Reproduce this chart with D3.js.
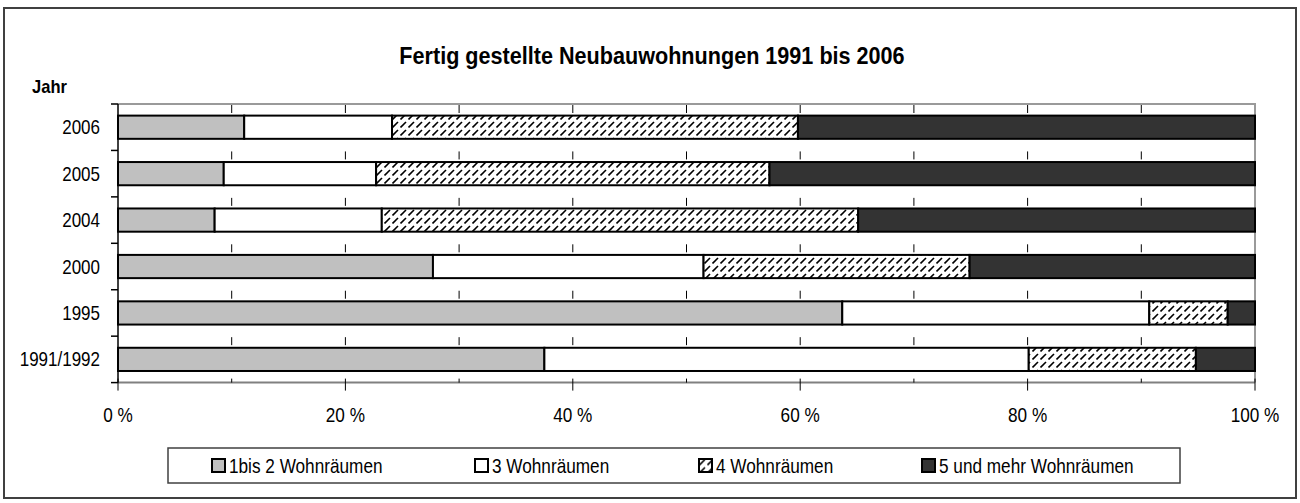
<!DOCTYPE html>
<html>
<head>
<meta charset="utf-8">
<script src="https://cdn.jsdelivr.net/npm/d3@7"></script>
<style>
  body { margin: 0; background: #fff; }
  svg text { font-family: 'Liberation Sans', Arial, sans-serif; }
</style>
</head>
<body>
<div id="chart"></div>
<script>
// values, in percent
var years = ['2006', '2005', '2004', '2000', '1995', '1991/1992']
var seriesNames = ['1bis 2 Wohnräumen', '3 Wohnräumen', '4 Wohnräumen', '5 und mehr Wohnräumen']
var oneTwoRooms = [11.1, 9.3, 8.5, 27.7, 63.7, 37.5]
var threeRooms = [13.0, 13.4, 14.7, 23.8, 27.0, 42.6]
var fourRooms = [35.7, 34.6, 41.9, 23.4, 6.9, 14.7]
var fivePlusRooms = [40.2, 42.7, 34.9, 25.1, 2.4, 5.2]
var xTickValues = [0, 20, 40, 60, 80, 100]

var width = 1300
var height = 503
var margin = { top: 104, right: 45, bottom: 120.4, left: 118 }

// the original uses a narrow font, squeeze the installed one sideways
var narrow = 0.86

var fills = ['#c0c0c0', '#ffffff', 'url(#hatch)', '#333333']

var data = years.map((y, i) => ({
  year: y,
  s0: oneTwoRooms[i],
  s1: threeRooms[i],
  s2: fourRooms[i],
  s3: fivePlusRooms[i]
}))
var keys = ['s0', 's1', 's2', 's3']
var stacked = d3.stack().keys(keys)(data)

var svg = d3.select('#chart').append('svg')
  .attr('width', width)
  .attr('height', height)

var defs = svg.append('defs')
var pat = defs.append('pattern')
  .attr('id', 'hatch')
  .attr('patternUnits', 'userSpaceOnUse')
  .attr('width', 8)
  .attr('height', 8)
pat.append('rect').attr('width', 8).attr('height', 8).attr('fill', '#fff')
pat.append('path')
  .attr('d', 'M0.5,7.5 L6,2')
  .attr('stroke', '#000')
  .attr('stroke-width', 1.6)

// outer frame
svg.append('rect')
  .attr('x', 4).attr('y', 8)
  .attr('width', 1292).attr('height', 490)
  .attr('fill', '#fff')
  .attr('stroke', '#404040')
  .attr('stroke-width', 2)

var x = d3.scaleLinear()
  .domain([0, 100])
  .range([margin.left, width - margin.right])

var y = d3.scaleBand()
  .domain(years)
  .range([margin.top, height - margin.bottom])
  .paddingInner(0.5)
  .paddingOuter(0.25)

var plotTop = margin.top
var plotBottom = height - margin.bottom
var step = y.step()

// dashed gridlines every 10 %
svg.append('g')
  .selectAll('line')
  .data(x.ticks(10).filter(d => d > 0 && d < 100))
  .enter()
  .append('line')
  .attr('x1', d => x(d)).attr('x2', d => x(d))
  .attr('y1', plotTop + 1).attr('y2', plotBottom)
  .attr('stroke', '#000')
  .attr('stroke-width', 1)
  .attr('stroke-dasharray', `8,${step - 8}`)

// plot border top and right
svg.append('path')
  .attr('d', `M${x(0)},${plotTop}H${x(100)}V${plotBottom}`)
  .attr('fill', 'none')
  .attr('stroke', '#9a9a9a')
  .attr('stroke-width', 2)

// bars
svg.append('g')
  .selectAll('g')
  .data(stacked)
  .enter()
  .append('g')
  .attr('fill', (d, i) => fills[i])
  .selectAll('rect')
  .data(d => d)
  .enter()
  .append('rect')
  .attr('x', d => x(d[0]))
  .attr('y', d => y(d.data.year))
  .attr('width', d => x(d[1]) - x(d[0]))
  .attr('height', y.bandwidth())
  .attr('stroke', '#000')
  .attr('stroke-width', 2)

// bottom axis
var xAxis = svg.append('g')
xAxis.append('line')
  .attr('x1', x(0)).attr('x2', x(100))
  .attr('y1', plotBottom).attr('y2', plotBottom)
  .attr('stroke', '#808080')
  .attr('stroke-width', 2)
xAxis.selectAll('.minor')
  .data(x.ticks(10).filter(d => d % 20 !== 0))
  .enter()
  .append('line')
  .attr('class', 'minor')
  .attr('x1', d => x(d)).attr('x2', d => x(d))
  .attr('y1', plotBottom - 4).attr('y2', plotBottom)
  .attr('stroke', '#000')
xAxis.selectAll('.major')
  .data(xTickValues)
  .enter()
  .append('line')
  .attr('class', 'major')
  .attr('x1', d => x(d)).attr('x2', d => x(d))
  .attr('y1', plotBottom - 4).attr('y2', plotBottom + 8)
  .attr('stroke', '#000')
xAxis.selectAll('text')
  .data(xTickValues)
  .enter()
  .append('text')
  .attr('transform', d => `translate(${x(d)},422) scale(${narrow},1)`)
  .attr('text-anchor', 'middle')
  .attr('font-size', 20)
  .text(d => d + ' %')

// left axis
var yAxis = svg.append('g')
yAxis.append('line')
  .attr('x1', x(0)).attr('x2', x(0))
  .attr('y1', plotTop).attr('y2', plotBottom)
  .attr('stroke', '#000')
  .attr('stroke-width', 1.5)
yAxis.selectAll('.tick')
  .data(d3.range(years.length + 1))
  .enter()
  .append('line')
  .attr('class', 'tick')
  .attr('x1', x(0) - 7).attr('x2', x(0))
  .attr('y1', i => plotTop + i * step)
  .attr('y2', i => plotTop + i * step)
  .attr('stroke', '#000')
  .attr('stroke-width', 1.5)
yAxis.selectAll('text')
  .data(years)
  .enter()
  .append('text')
  .attr('transform', d => `translate(100,${y(d) + y.bandwidth() / 2}) scale(0.85,1)`)
  .attr('dy', '0.35em')
  .attr('text-anchor', 'end')
  .attr('font-size', 20)
  .text(d => d)

// title and axis name
svg.append('text')
  .attr('transform', 'translate(652,64) scale(0.9,1)')
  .attr('text-anchor', 'middle')
  .attr('font-size', 24)
  .attr('font-weight', 'bold')
  .text('Fertig gestellte Neubauwohnungen 1991 bis 2006')

svg.append('text')
  .attr('transform', 'translate(32,93) scale(0.92,1)')
  .attr('font-size', 18)
  .attr('font-weight', 'bold')
  .text('Jahr')

// legend
var legendBox = { x: 168, y: 448, w: 1012, h: 35 }
svg.append('rect')
  .attr('x', legendBox.x).attr('y', legendBox.y)
  .attr('width', legendBox.w).attr('height', legendBox.h)
  .attr('fill', '#fff')
  .attr('stroke', '#404040')
  .attr('stroke-width', 1.5)

var legendStarts = [212, 475, 699, 922]
var legend = svg.append('g')
  .selectAll('g')
  .data(seriesNames)
  .enter()
  .append('g')
  .attr('transform', (d, i) => `translate(${legendStarts[i]},${legendBox.y + legendBox.h / 2})`)
legend.append('rect')
  .attr('x', 0).attr('y', -6.5)
  .attr('width', 13).attr('height', 13)
  .attr('fill', (d, i) => fills[i])
  .attr('stroke', '#000')
  .attr('stroke-width', 2)
legend.append('text')
  .attr('transform', `translate(17,0) scale(${narrow},1)`)
  .attr('dy', '0.35em')
  .attr('font-size', 20)
  .text(d => d)
</script>
</body>
</html>
